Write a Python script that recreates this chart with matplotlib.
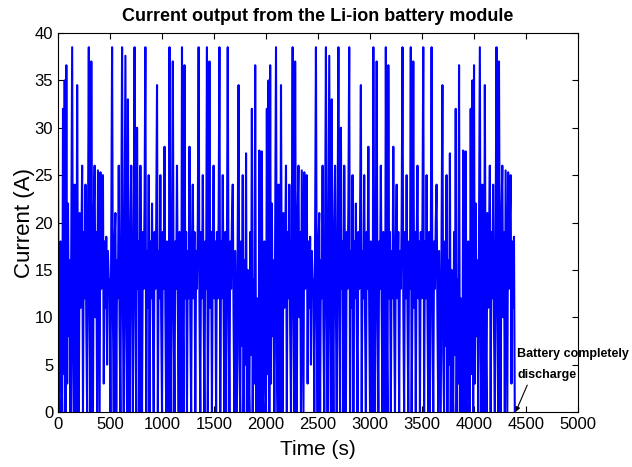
import numpy as np
import matplotlib
matplotlib.use('Agg')
import matplotlib.pyplot as plt

plt.rcParams['font.family'] = ['Liberation Sans', 'DejaVu Sans']

# one drive cycle of the module current, one value every 8 s (A)
sample_step = 8
cycle_current = [
    27.5, 2, 0, 18, 6, 0, 32, 4, 35, 0,
    36.6, 3, 22, 8, 16, 0, 19, 38.5, 6, 0,
    24, 10, 0, 34.5, 9, 0, 21, 11, 17, 26,
    0, 19, 12, 24, 9, 0, 20, 38.5, 11, 0,
    37, 12, 0, 21, 26, 10, 19, 0, 25.5, 12,
    0, 25.3, 13, 20, 25, 3, 18, 11, 18.5, 5,
    17, 14, 14, 0, 20, 38.5, 10, 0, 18, 21,
    0, 16, 12, 26, 9, 0, 19, 38.5, 11, 0,
    20, 37.6, 9, 0, 33, 12, 0, 19, 26, 11,
    0, 20, 38.5, 12, 0, 30, 13, 18, 0, 26,
    12, 0, 19, 13, 22, 38.5, 0, 17, 11, 25,
    0, 18, 12, 22, 10, 0, 19, 13, 20, 34.5,
    0, 17, 12, 25, 10, 0, 19, 13, 28, 11,
    0, 18, 12, 0, 38.5, 11, 0, 20, 37, 10,
    0, 18, 13, 26, 11, 0, 19, 12, 0, 38.5,
    10, 0, 36.6, 12, 19, 0, 17, 12, 28, 10,
    0, 18, 24, 12, 19, 0, 17, 13, 20, 38.5,
    11, 0, 19, 12, 25, 11, 0, 18, 13, 38.5,
    0, 12, 37, 11, 19, 0, 17, 26, 12, 18,
    0, 19, 12, 20, 38.5, 0, 18, 12, 25, 11,
    0, 19, 0, 17, 38.5, 12, 0, 18, 13, 20,
    24, 10, 0, 17, 8, 0, 19, 34.5, 6, 0,
    18, 7, 25, 0, 16, 5, 27.3, 0, 15, 4,
    0, 19, 6, 32, 0, 14, 3, 36.6, 0, 12,
    4, 0, 27.6, 2, 0,
]
# the cycle repeats; the third pass stops when the battery is empty
n_last_pass = 59
end_current = [0]

current = np.array(cycle_current + cycle_current + cycle_current[:n_last_pass] + end_current)
time_s = np.arange(len(current)) * sample_step

fig = plt.figure(figsize=(6.32, 4.67), dpi=100)
ax = fig.add_axes([0.0918, 0.1178, 0.8228, 0.8115])
ax.plot(time_s, current, color='#0000ff', lw=1.5)

ax.set_xlim(0, 5000)
ax.set_ylim(0, 40)
ax.set_xticks(np.arange(0, 5001, 500))
ax.set_yticks(np.arange(0, 41, 5))
ax.tick_params(direction='in', top=True, right=True, length=4, labelsize=12)
for sp in ax.spines.values():
    sp.set_linewidth(0.8)

ax.set_title('Current output from the Li-ion battery module', fontsize=13,
             fontweight='bold', pad=9)
ax.set_xlabel('Time (s)', fontsize=15, labelpad=6)
ax.set_ylabel('Current (A)', fontsize=16, labelpad=0)

ax.text(4415, 6.1, 'Battery completely', fontsize=9, fontweight='bold',
        va='center', ha='left', clip_on=False)
ax.annotate('discharge', xy=(4400, 0), xytext=(4415, 3.9), fontsize=9,
            fontweight='bold', va='center', ha='left',
            arrowprops=dict(arrowstyle='-|>', color='black', lw=0.8,
                            shrinkA=1, shrinkB=0, mutation_scale=7,
                            relpos=(0.2, 0)))

fig.savefig('out.png', dpi=100)
